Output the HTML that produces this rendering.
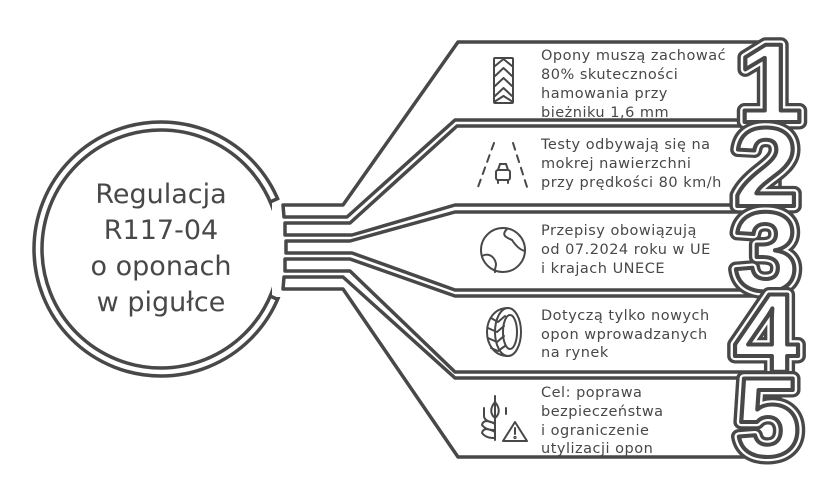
<!DOCTYPE html>
<html><head><meta charset="utf-8"><style>
html,body{margin:0;padding:0;background:#fff;width:828px;height:500px;overflow:hidden}
svg{display:block}
.t{font-family:"DejaVu Sans","Liberation Sans",sans-serif;fill:#484848}
.n{font-family:"Liberation Sans",sans-serif;font-weight:bold}
</style></head><body>
<svg width="828" height="500" viewBox="0 0 828 500" xmlns="http://www.w3.org/2000/svg">
<g fill="none" stroke="#484848" stroke-width="3.5" stroke-linejoin="round">
 <circle cx="161" cy="249" r="127"/>
 <circle cx="161" cy="249" r="119"/>
</g>
<rect x="272" y="199" width="30" height="98" fill="#fff"/>
<g fill="none" stroke="#484848" stroke-width="3.5" stroke-linejoin="round">
 <line x1="270" y1="202" x2="279" y2="198"/>
 <line x1="270" y1="296" x2="279" y2="300"/>
 <polygon fill="#fff" points="283,205 343,205 458,42 780,42 780,120 455,120 347,217 284,217"/>
 <polygon fill="#fff" points="285,223 350,223 457,126 780,126 780,205 455,205 352,235 285,235"/>
 <polygon fill="#fff" points="286,241 350,241 455,212 780,212 780,290 455,290 352,253 286,253"/>
 <polygon fill="#fff" points="285,259 350,259 455,296 780,296 780,372 455,372 350,271 285,271"/>
 <polygon fill="#fff" points="284,277 343,277 455,378 780,378 780,457 458,457 343,289 283,289"/>
</g>
<g class="n" font-size="112" text-anchor="middle" stroke-linejoin="round">
 <g transform="translate(770,122) scale(1.05,1)">
  <text style="fill:#484848;stroke:#484848;stroke-width:15">1</text><text style="fill:#fff;stroke:#fff;stroke-width:8.5">1</text><text style="fill:#fff;stroke:#484848;stroke-width:4">1</text></g>
 <g transform="translate(766,206) scale(1.05,1)">
  <text style="fill:#484848;stroke:#484848;stroke-width:15">2</text><text style="fill:#fff;stroke:#fff;stroke-width:8.5">2</text><text style="fill:#fff;stroke:#484848;stroke-width:4">2</text></g>
 <g transform="translate(766,290) scale(1.05,1)">
  <text style="fill:#484848;stroke:#484848;stroke-width:15">3</text><text style="fill:#fff;stroke:#fff;stroke-width:8.5">3</text><text style="fill:#fff;stroke:#484848;stroke-width:4">3</text></g>
 <g transform="translate(766,372) scale(1.05,1)">
  <text style="fill:#484848;stroke:#484848;stroke-width:15">4</text><text style="fill:#fff;stroke:#fff;stroke-width:8.5">4</text><text style="fill:#fff;stroke:#484848;stroke-width:4">4</text></g>
 <g transform="translate(768,456) scale(1.05,1)">
  <text style="fill:#484848;stroke:#484848;stroke-width:15">5</text><text style="fill:#fff;stroke:#fff;stroke-width:8.5">5</text><text style="fill:#fff;stroke:#484848;stroke-width:4">5</text></g>
</g>
<g font-size="27" text-anchor="middle">
 <text class="t" x="161" y="203">Regulacja</text>
 <text class="t" x="161" y="239">R117-04</text>
 <text class="t" x="161" y="275">o oponach</text>
 <text class="t" x="161" y="311">w pigułce</text>
</g>
<g font-size="14.5" letter-spacing="0.5">
 <text class="t" x="541" y="60">Opony muszą zachować</text>
 <text class="t" x="541" y="79">80% skuteczności</text>
 <text class="t" x="541" y="98">hamowania przy</text>
 <text class="t" x="541" y="117">bieżniku 1,6 mm</text>
 <text class="t" x="541" y="149">Testy odbywają się na</text>
 <text class="t" x="541" y="168">mokrej nawierzchni</text>
 <text class="t" x="541" y="187">przy prędkości 80 km/h</text>
 <text class="t" x="541" y="235">Przepisy obowiązują</text>
 <text class="t" x="541" y="254">od 07.2024 roku w UE</text>
 <text class="t" x="541" y="273">i krajach UNECE</text>
 <text class="t" x="541" y="320">Dotyczą tylko nowych</text>
 <text class="t" x="541" y="339">opon wprowadzanych</text>
 <text class="t" x="541" y="357">na rynek</text>
 <text class="t" x="541" y="397">Cel: poprawa</text>
 <text class="t" x="541" y="416">bezpieczeństwa</text>
 <text class="t" x="541" y="435">i ograniczenie</text>
 <text class="t" x="541" y="453">utylizacji opon</text>
</g>
<g fill="none" stroke="#484848" stroke-width="2" stroke-linejoin="round" stroke-linecap="round">
 <rect x="494" y="58" width="19" height="45" rx="1"/>
 <polyline points="495,66 503.5,59 512,66"/>
 <polyline points="495,76 503.5,68 512,76"/>
 <polyline points="495,86 503.5,78 512,86"/>
 <polyline points="495,96 503.5,88 512,96"/>
 <line x1="494" y1="102" x2="503.5" y2="96"/><line x1="513" y1="102" x2="503.5" y2="96"/>
 <path d="M494,143 L478,187" stroke-dasharray="7,6"/>
 <path d="M513,143 L527,187" stroke-dasharray="7,6"/>
 <rect x="496" y="170" width="14" height="10" rx="2"/>
 <line x1="498" y1="170" x2="500" y2="164"/><line x1="508" y1="170" x2="506" y2="164"/><line x1="500" y1="164" x2="506" y2="164"/>
 <line x1="498" y1="180" x2="498" y2="183"/><line x1="508" y1="180" x2="508" y2="183"/>
 <circle cx="503" cy="250" r="22"/>
 <path d="M507,229 C500,236 508,238 512,240 C516,246 520,250 525,251"/>
 <path d="M482,256 C490,252 495,258 496,264 C496,268 494,270 495,272"/>
 <ellipse cx="508" cy="332" rx="13" ry="24"/>
 <ellipse cx="510" cy="332" rx="7" ry="17"/>
 <path d="M508,308 C494,308 487,320 487,332 C487,344 494,356 508,356"/>
 <polyline points="491,318 498,322 505,316"/><polyline points="488,328 497,332 504,326"/><polyline points="488,338 497,342 504,336"/><polyline points="491,348 498,351 505,346"/>
 <line x1="495" y1="396" x2="495" y2="440"/>
 <path d="M495,402 C490,408 490,414 495,418 C500,414 500,408 495,402Z"/>
 <path d="M495,424 C488,420 483,420 482,425 C486,430 491,430 495,430"/>
 <path d="M495,432 C488,428 483,428 482,433 C486,438 491,438 495,438"/>
 <path d="M484,408 L484,416 C484,420 489,422 495,423"/>
 <path d="M506,408 L506,414"/>
 <path d="M515,422 L527,441 L503,441 Z"/>
 <line x1="515" y1="428" x2="515" y2="434"/>
 <circle cx="515" cy="437.5" r="0.6"/>
</g>
</svg>
</body></html>
